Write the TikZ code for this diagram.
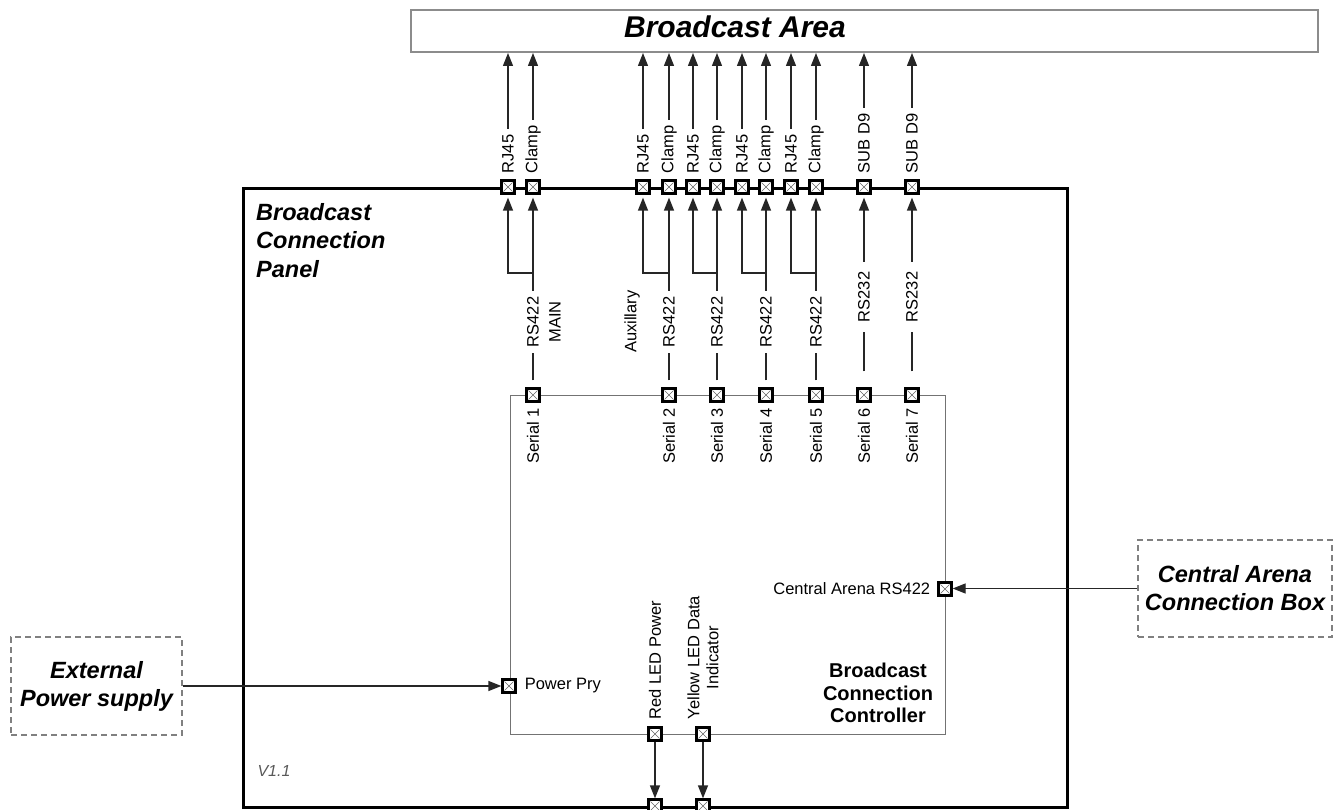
\documentclass[tikz,border=0pt]{standalone}
\usepackage{fontspec}
\setmainfont{Liberation Sans}
\usetikzlibrary{arrows.meta}
\begin{document}
\begin{tikzpicture}[x=1pt,y=-1pt,
 port/.style={draw=black, line width=2.2pt, fill=white, minimum size=13pt, inner sep=0pt,
   path picture={\draw[line width=0.6pt, black!60]
     ([shift={(2pt,2pt)}]path picture bounding box.south west) -- ([shift={(-2pt,-2pt)}]path picture bounding box.north east)
     ([shift={(2pt,-2pt)}]path picture bounding box.north west) -- ([shift={(-2pt,2pt)}]path picture bounding box.south east);}},
 lbl/.style={font=\fontsize{16.5}{19}\selectfont, inner sep=1pt},
 vlbl/.style={lbl, rotate=90, fill=white, inner xsep=5pt, inner ysep=1pt},
 conn/.style={draw=black!85, line width=1.2pt},
 arr/.style={conn, -{Triangle[length=13pt,width=10pt]}},
 dbox/.style={draw=black!50, dash pattern=on 6pt off 4pt, line width=1.3pt, inner sep=0pt, align=center,
   font=\fontsize{23.5}{28}\selectfont\bfseries\itshape},
]
\useasboundingbox (0,0) rectangle (1339,810);
% main boxes
\node[draw=black!45, line width=2pt, minimum width=907pt, minimum height=42pt, inner sep=0pt] (area) at (864.5,31) {};
\node[font=\fontsize{30}{34}\selectfont\bfseries\itshape, inner sep=0pt] (areatitle) at (735,27) {Broadcast Area};
\node[draw=black, line width=3pt, minimum width=824pt, minimum height=619pt, inner sep=0pt, anchor=north west] (panel) at (242,187) {};
\node[draw=black!55, line width=1.3pt, minimum width=435pt, minimum height=339pt, inner sep=0pt, anchor=north west] (ctrl) at (510,395) {};
\node[anchor=north west, align=left, inner sep=0pt, font=\fontsize{23.5}{28.5}\selectfont\bfseries\itshape] (paneltitle) at (256,203) {Broadcast\\Connection\\Panel};
\node[align=center, inner sep=0pt, font=\fontsize{20}{22.5}\selectfont\bfseries] (ctrltitle) at (878,693) {Broadcast\\Connection\\Controller};
\node[lbl, font=\fontsize{16}{19}\selectfont\itshape, text=black!65] (ver) at (274,771) {V1.1};
% external boxes
\node[dbox, minimum width=171pt, minimum height=98pt] (ext) at (96.5,686) {External\\Power supply};
\node[dbox, minimum width=194pt, minimum height=97pt] (cab) at (1235,588.5) {Central Arena\\Connection Box};
% ports on panel top
\foreach \n/\x in {1/508,2/533,3/643,4/669,5/693,6/717,7/742,8/766,9/791,10/816,11/864,12/912}
  \node[port] (t\n) at (\x,187) {};
% serial ports
\foreach \n/\x in {1/533,2/669,3/717,4/766,5/816,6/864,7/912}
  \node[port] (s\n) at (\x,395) {};
% other ports
\node[port] (ca) at (945,589) {};
\node[port] (pp) at (509,686) {};
\node[port] (b1) at (655,734) {};
\node[port] (b2) at (703,734) {};
\node[port] (pb1) at (655,806) {};
\node[port] (pb2) at (703,806) {};
% arrows to broadcast area
\foreach \n in {1,...,12}
  \draw[arr] (t\n.north) -- (t\n.north |- area.south);
% forks
\foreach \s/\l/\r/\x in {1/1/2/533,2/3/4/669,3/5/6/717,4/7/8/766,5/9/10/816} {
  \coordinate (j\s) at (\x,273);
  \draw[conn, shorten <=7pt] (s\s.north) -- (j\s);
  \draw[arr, shorten >=3pt] (j\s) -- (t\r.south);
  \draw[arr, shorten >=3pt] (j\s) -| (t\l.south);
}
\draw[arr, shorten <=16pt, shorten >=3pt] (s6.north) -- (t11.south);
\draw[arr, shorten <=16pt, shorten >=3pt] (s7.north) -- (t12.south);
% side and bottom arrows
\draw[arr] (ext.east) -- (ext.east -| pp.west);
\draw[arr] (cab.west) -- (cab.west -| ca.east);
\draw[arr] (b1.south) -- (pb1.north);
\draw[arr] (b2.south) -- (pb2.north);
% top labels
\foreach \n/\t in {1/RJ45,2/Clamp,3/RJ45,4/Clamp,5/RJ45,6/Clamp,7/RJ45,8/Clamp,9/RJ45,10/Clamp,11/SUB D9,12/SUB D9}
  \node[vlbl, anchor=west, inner xsep=6pt] (tl\n) at (t\n.north) {\t};
% link labels
\foreach \n in {1,...,5}
  \node[vlbl, inner xsep=6pt] (rl\n) at (s\n.north |- 0,322) {RS422};
\node[vlbl, inner xsep=10pt] (rl6) at (s6.north |- 0,297) {RS232};
\node[vlbl, inner xsep=10pt] (rl7) at (s7.north |- 0,297) {RS232};
\node[lbl, rotate=90] (mainl) at (555,322) {MAIN};
\node[lbl, rotate=90, anchor=west] (auxl) at (632,354) {Auxillary};
% serial labels
\foreach \n in {1,...,7}
  \node[lbl, rotate=90, anchor=east, inner xsep=5pt] (sl\n) at (s\n.south) {Serial \n};
\node[lbl, anchor=east] (cal) at ([xshift=-6pt]ca.west) {Central Arena RS422};
\node[lbl, anchor=west] (ppl) at ([xshift=7pt]pp.east) {Power Pry};
\node[lbl, rotate=90, anchor=west] (redl) at ([yshift=6pt]b1.north) {Red LED Power};
\node[lbl, rotate=90, anchor=west, align=center] (yell) at ([yshift=6pt]b2.north) {Yellow LED Data\\Indicator};
\end{tikzpicture}
\end{document}
